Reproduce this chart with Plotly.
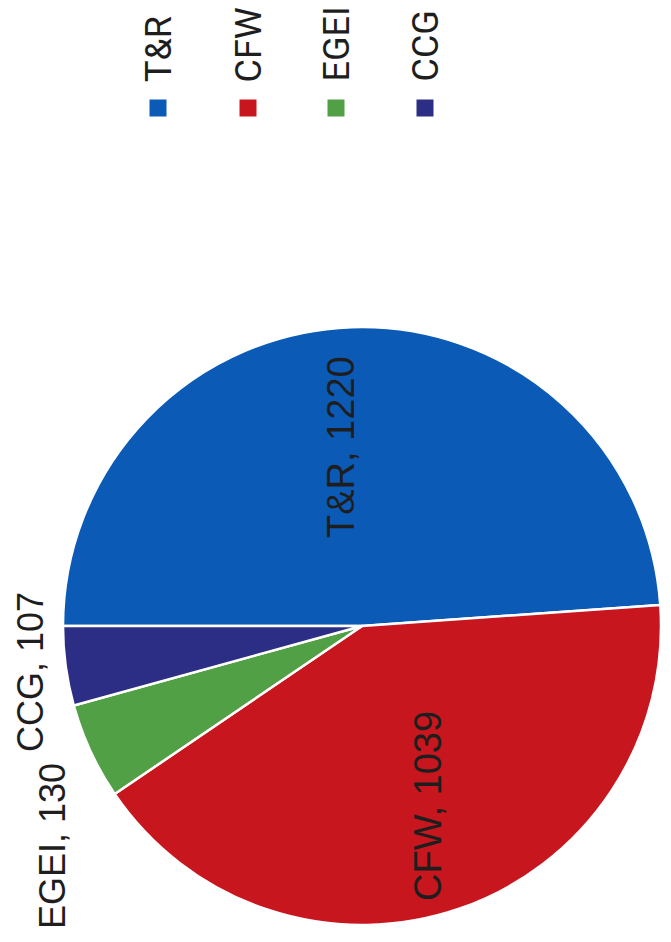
import plotly.graph_objects as go

# ---- data ----
labels = ["T&R", "CFW", "EGEI", "CCG"]
values = [1220, 1039, 130, 107]
colors = ["#0b5bb6", "#c8161f", "#51a045", "#2b2e84"]

W, H = 671, 942
def px(x):
    return x / W
def py(y):
    return 1 - y / H

# pie geometry in pixels (layout)
cx, cy, r = 362, 626, 299

fig = go.Figure()
fig.add_trace(go.Pie(
    labels=labels, values=values, sort=False, direction="clockwise",
    rotation=-90, textinfo="none", hoverinfo="label+value",
    marker=dict(colors=colors, line=dict(color="white", width=2.5)),
    domain=dict(x=[px(cx - r), px(cx + r)], y=[py(cy + r), py(cy - r)]),
    showlegend=False,
))

# data label positions (pixel centres of rotated text) and font sizes
label_pos = [(341, 447), (428, 806), (52, 846), (30, 672)]
label_size = [38, 38, 36, 36]
annotations = []
for lab, val, (x, y), s in zip(labels, values, label_pos, label_size):
    annotations.append(dict(
        x=px(x), y=py(y), xref="paper", yref="paper",
        text=f"{lab}, {val}", showarrow=False, textangle=-90,
        xanchor="center", yanchor="middle",
        font=dict(family="Liberation Sans", size=s, color="#1e1e1e"),
    ))

# rotated legend
legend_x = [158, 248, 336, 425]
legend_text_bottom = 84
legend_marker_y = 108
msize = 17
shapes = []
for lab, col, x in zip(labels, colors, legend_x):
    annotations.append(dict(
        x=px(x + 1), y=py(legend_text_bottom), xref="paper", yref="paper",
        text=lab, showarrow=False, textangle=-90,
        xanchor="center", yanchor="bottom",
        font=dict(family="Roboto", size=36, color="#1e1e1e"),
    ))
    shapes.append(dict(
        type="rect", xref="paper", yref="paper",
        x0=px(x - msize / 2), x1=px(x + msize / 2),
        y0=py(legend_marker_y + msize / 2), y1=py(legend_marker_y - msize / 2),
        fillcolor=col, line=dict(width=0),
    ))

fig.update_layout(
    width=W, height=H, margin=dict(l=0, r=0, t=0, b=0),
    paper_bgcolor="white", plot_bgcolor="white",
    annotations=annotations, shapes=shapes, showlegend=False,
)
fig.write_html("out.html", config={"displayModeBar": False})
